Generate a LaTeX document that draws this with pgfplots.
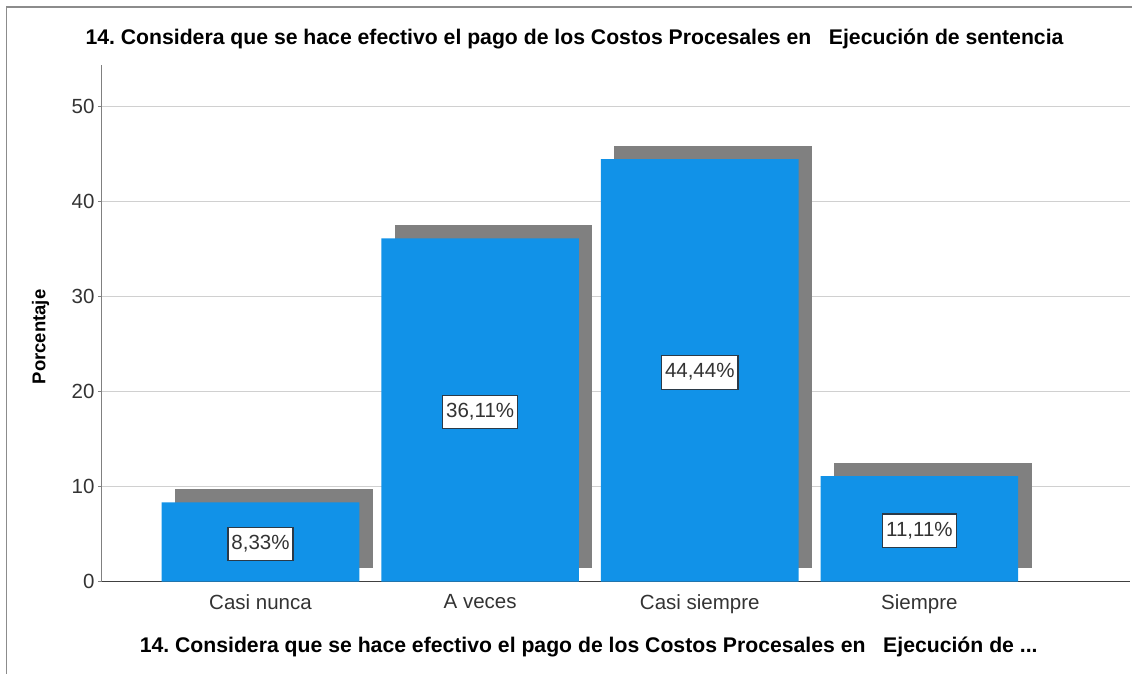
\documentclass[border=0pt]{standalone}
\usepackage{pgfplots}
\pgfplotsset{compat=1.18}
\usepackage{fontspec}
\setmainfont{Liberation Sans}
\frenchspacing
\definecolor{barblue}{HTML}{1192E8}
\definecolor{shadowgray}{HTML}{808080}
\definecolor{gridgray}{HTML}{D0D0D0}
\definecolor{framegray}{HTML}{8C8C8C}
\definecolor{txt}{HTML}{333333}
\definecolor{boxline}{HTML}{2B3A48}
\begin{document}
\begin{tikzpicture}
\useasboundingbox (-102pt,-91.3pt) rectangle (1030pt,581.7pt);
\draw[framegray, line width=1.6pt] (-95.3pt,-120pt) -- (-95.3pt,574.4pt) -- (1060pt,574.4pt);
\begin{axis}[
 at={(0pt,0pt)}, anchor=south west,
 scale only axis, width=1028pt, height=516.7pt,
 xmin=-0.7218, xmax=3.959, ymin=0, ymax=54.33,
 xtick={0,1,2,3}, xticklabels={Casi nunca, A veces, Casi siempre, Siempre},
 ytick={0,10,...,50},
 ymajorgrids, grid style={gridgray, line width=1pt},
 axis x line*=bottom, axis y line*=left,
 x axis line style={-, draw=black!75, line width=1pt},
 y axis line style={-, draw=gray, line width=1pt},
 xtick style={draw=none},
 ytick style={draw=gray, line width=1pt}, tick align=outside, major tick length=4pt,
 tick label style={font=\fontsize{20.5}{24}\selectfont, text=txt},
 /pgf/number format/assume math mode=true,
 xticklabel style={yshift=-5pt},
 clip=false,
]
% shadows
\addplot[fill=shadowgray, draw=none] coordinates {(-0.3894,1.41) (0.5106,1.41) (0.5106,9.74) (-0.3894,9.74)} -- cycle;
\addplot[fill=shadowgray, draw=none] coordinates {(0.6106,1.41) (1.5106,1.41) (1.5106,37.52) (0.6106,37.52)} -- cycle;
\addplot[fill=shadowgray, draw=none] coordinates {(1.6106,1.41) (2.5106,1.41) (2.5106,45.85) (1.6106,45.85)} -- cycle;
\addplot[fill=shadowgray, draw=none] coordinates {(2.6106,1.41) (3.5106,1.41) (3.5106,12.52) (2.6106,12.52)} -- cycle;
% bars
\addplot[ybar, bar shift=0pt, bar width=0.9, fill=barblue, draw=none] coordinates {(0,8.33) (1,36.11) (2,44.44) (3,11.11)};
% value labels
\addplot[draw=none, mark=none, nodes near coords, point meta=explicit symbolic,
  every node near coord/.style={anchor=center, draw=boxline, line width=1.2pt, fill=white, text=txt,
    font=\fontsize{20.5}{24}\selectfont, inner xsep=3.5pt, inner ysep=7pt, text height=15pt, text depth=4.5pt}]
  coordinates {(0,3.95) [8,33\%] (1,17.84) [36,11\%] (2,22.0) [44,44\%] (3,5.35) [11,11\%]};
\end{axis}
\node[anchor=base, font=\bfseries\fontsize{21.2}{25}\selectfont] at (472.5pt,536.7pt) {14. Considera que se hace efectivo el pago de los Costos Procesales en\ \ \ Ejecución de sentencia};
\node[anchor=base, font=\bfseries\fontsize{21.2}{25}\selectfont] at (486.7pt,-70.6pt) {14. Considera que se hace efectivo el pago de los Costos Procesales en\ \ \ Ejecución de ...};
\node[rotate=90, font=\bfseries\fontsize{18.5}{22}\selectfont] at (-61.3pt,244.7pt) {Porcentaje};
\end{tikzpicture}
\end{document}
